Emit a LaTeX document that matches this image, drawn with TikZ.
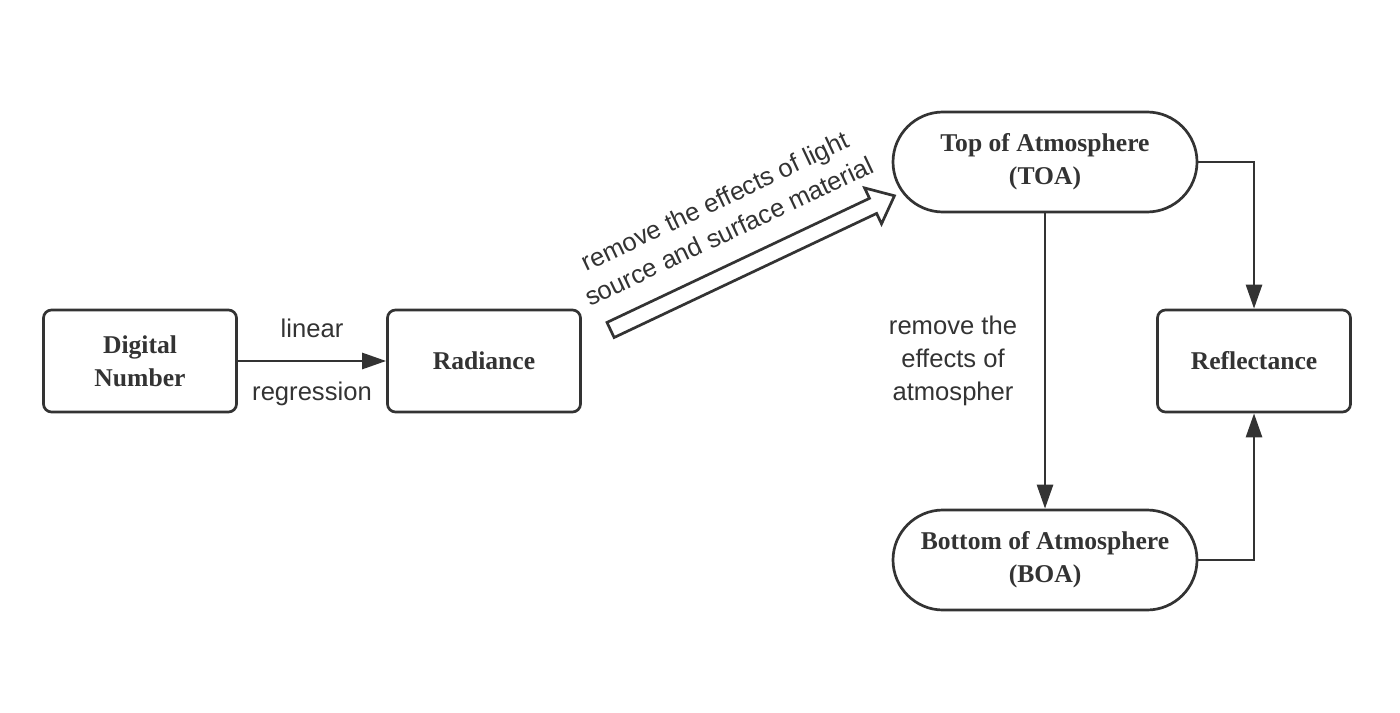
\documentclass[tikz,border=0pt]{standalone}
\usepackage{fontspec}
\setmainfont{Liberation Serif}
\setsansfont{Liberation Sans}
\usetikzlibrary{shapes,arrows.meta,calc}
\definecolor{ink}{HTML}{333333}
\tikzstyle{line} = [draw=ink, line width=1.35pt, -{Triangle[length=12pt,width=8pt]}]
\tikzstyle{block} = [draw=ink, line width=1.35pt, rectangle, text centered, align=center, rounded corners=4pt, minimum width=96.5pt, minimum height=51pt, text=ink, font=\fontsize{12.8}{16.5}\selectfont\bfseries]
\tikzstyle{cloud} = [block, rounded corners=25pt, minimum width=152pt, minimum height=50pt]
\tikzstyle{note} = [text=ink, align=center, anchor=center, font=\sffamily\fontsize{12.8}{16.5}\selectfont]
\tikzstyle{hollow} = [draw=ink, line width=1.35pt, fill=white, single arrow, inner xsep=0pt, inner ysep=3.5pt, minimum height=157pt, single arrow head extend=5.75pt, single arrow tip angle=80]

\begin{document}
\begin{tikzpicture}[node distance=172pt]
        \useasboundingbox (-70pt,-175.5pt) rectangle (630pt,180.5pt);
        \node[block] (dn) {Digital\\Number};
        \node[block, right of=dn] (rad) {Radiance};
        \node[cloud] (toa) at (452.5pt,99.5pt) {Top of Atmosphere\\(TOA)};
        \node[cloud, below of=toa, node distance=199pt] (boa) {Bottom of Atmosphere\\(BOA)};
        \node[block, right of=rad, node distance=385pt] (refl) {Reflectance};
        % hollow arrow from radiance towards TOA
        \node[hollow, rotate=25.3] (shift) at (304pt,48pt) {};
        \node[note, rotate=25.3] (shiftnote) at (291pt,72.5pt) {remove the effects of light\\source and surface material};
        \path[line] (dn) -- node[note, yshift=16.5pt] {linear} node[note, yshift=-16.5pt] {regression} (rad);
        \path[line] (toa) -- node[note, xshift=-46pt] {remove the\\effects of\\atmospher} (boa);
        \path[line] (toa.east) -| (refl.north);
        \path[line] (boa.east) -| (refl.south);
    \end{tikzpicture}
\end{document}
